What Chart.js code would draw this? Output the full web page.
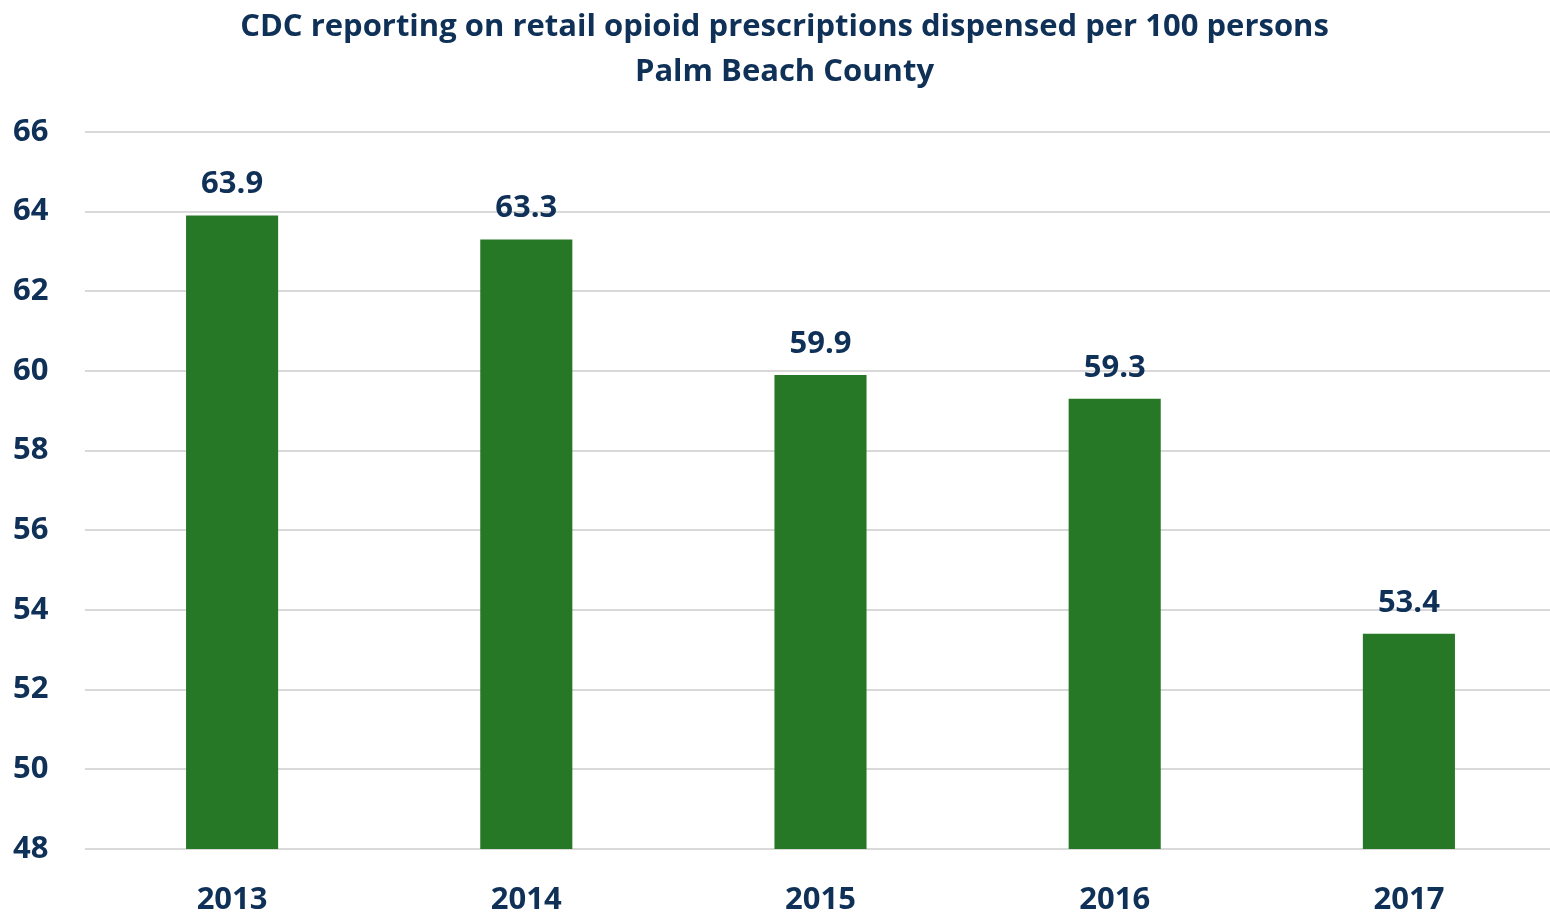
<!DOCTYPE html>
<html lang="en">
<head>
    <meta charset="UTF-8">
    <title>CDC opioid prescriptions - Palm Beach County</title>
    <style>
        html, body {
            margin: 0;
            padding: 0;
            background: white;
            overflow: hidden;
        }
        #wrap {
            width: 1556px;
            height: 913px;
        }
    </style>
</head>
<body>
    <div id="wrap"><canvas id="chart"></canvas></div>
    <script src="https://cdn.jsdelivr.net/npm/chart.js"></script>
    <script>
        const years = ['2013', '2014', '2015', '2016', '2017'];
        const rates = [63.9, 63.3, 59.9, 59.3, 53.4];
        const titleLines = [
            'CDC reporting on retail opioid prescriptions dispensed per 100 persons',
            'Palm Beach County'
        ];

        const navy = '#0f3057';
        const green = '#267826';
        const fontFamily = '"Open Sans", "DejaVu Sans", sans-serif';

        // values above each bar
        const barLabels = {
            id: 'barLabels',
            afterDatasetsDraw(chart) {
                const ctx = chart.ctx;
                const meta = chart.getDatasetMeta(0);
                ctx.save();
                ctx.fillStyle = navy;
                ctx.font = 'bold 31px ' + fontFamily;
                ctx.textAlign = 'center';
                ctx.textBaseline = 'middle';
                meta.data.forEach((bar, i) => {
                    ctx.fillText(rates[i].toFixed(1), bar.x, bar.y - 31);
                });
                ctx.restore();
            }
        };

        new Chart(document.getElementById('chart'), {
            type: 'bar',
            data: {
                labels: years,
                datasets: [{
                    data: rates,
                    backgroundColor: green,
                    borderWidth: 0,
                    barPercentage: 0.313,
                    categoryPercentage: 1.0
                }]
            },
            options: {
                responsive: true,
                maintainAspectRatio: false,
                animation: false,
                layout: {
                    padding: { left: 13, right: 0, top: 0, bottom: 0 }
                },
                plugins: {
                    legend: { display: false },
                    tooltip: { enabled: false },
                    title: {
                        display: true,
                        text: titleLines,
                        color: navy,
                        align: 'center',
                        font: { family: fontFamily, size: 31, weight: 'bold', lineHeight: 1.45 },
                        padding: { top: 5, bottom: 37 }
                    }
                },
                scales: {
                    x: {
                        grid: { display: false, drawTicks: false },
                        border: { display: false },
                        ticks: {
                            color: navy,
                            font: { family: fontFamily, size: 31, weight: 'bold' },
                            padding: 33
                        },
                        afterFit(scale) { scale.height = 64; }
                    },
                    y: {
                        min: 48,
                        max: 66,
                        ticks: {
                            stepSize: 2,
                            color: navy,
                            font: { family: fontFamily, size: 31, weight: 'bold' },
                            crossAlign: 'far',
                            padding: 10
                        },
                        grid: { color: '#d9d9d9', lineWidth: 2, drawTicks: false },
                        border: { display: false },
                        afterFit(scale) { scale.width = 72; }
                    }
                }
            },
            plugins: [barLabels]
        });
    </script>
</body>
</html>
